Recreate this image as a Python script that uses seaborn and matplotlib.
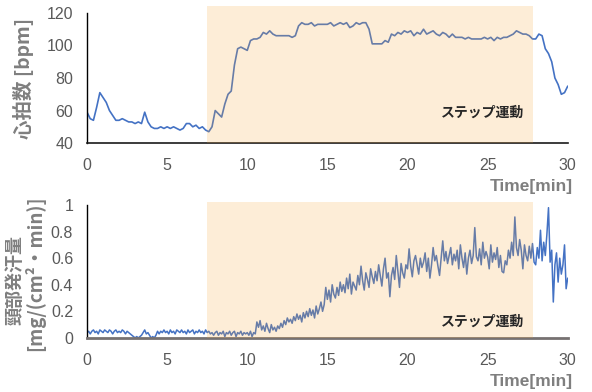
import numpy as np
import pandas as pd
import seaborn as sns
import matplotlib.pyplot as plt

# heart rate, sampled every 0.2 min
hr_time = np.round(np.arange(0, 151) * 0.2, 1)
hr_bpm = [59, 55, 54, 62, 71, 68, 65, 60, 57, 54,
          54, 55, 54, 53, 53, 52, 53, 52, 59, 53,
          50, 49, 49, 50, 49, 50, 49, 50, 49, 48,
          49, 52, 52, 50, 51, 49, 50, 48, 47, 50,
          60, 58, 56, 64, 70, 72, 88, 98, 99, 98,
          97, 103, 104, 104, 105, 108, 107, 109, 107, 106,
          106, 106, 106, 106, 105, 106, 112, 114, 113, 113,
          114, 112, 113, 113, 113, 113, 114, 112, 113, 114,
          113, 114, 111, 112, 114, 113, 114, 114, 110, 101,
          101, 101, 101, 103, 102, 107, 106, 108, 107, 109,
          108, 109, 106, 108, 107, 110, 107, 108, 109, 107,
          106, 108, 107, 105, 107, 105, 105, 105, 104, 105,
          104, 104, 104, 104, 105, 104, 105, 103, 105, 104,
          105, 105, 106, 107, 109, 108, 107, 107, 106, 104,
          104, 107, 106, 98, 95, 90, 80, 76, 70, 71,
          75]

# neck sweat rate, sampled every 0.1 min
sw_time = np.round(np.arange(0, 301) * 0.1, 1)
sw_rate = [.04, .05, .03, .05, .06, .04, .05, .03, .06, .05,
           .04, .06, .05, .04, .06, .05, .03, .05, .06, .04,
           .05, .04, .06, .05, .03, .05, .04, .03, .02, .01,
           .00, .01, .00, .01, .02, .04, .06, .03, .04, .02,
           .00, .01, .00, .02, .05, .03, .05, .04, .06, .04,
           .05, .03, .06, .04, .05, .03, .06, .05, .04, .06,
           .04, .05, .03, .06, .04, .05, .06, .03, .05, .04,
           .06, .04, .05, .03, .06, .04, .05, .03, .04, .02,
           .04, .05, .02, .04, .03, .05, .01, .04, .03, .05,
           .02, .04, .05, .01, .04, .03, .05, .02, .04, .03,
           .04, .02, .05, .01, .04, .03, .12, .08, .13, .06,
           .09, .05, .11, .07, .04, .10, .06, .08, .05, .09,
           .07, .11, .08, .13, .10, .15, .12, .14, .11, .16,
           .13, .18, .14, .17, .12, .19, .15, .20, .16, .22,
           .17, .21, .15, .24, .18, .22, .27, .20, .25, .38,
           .29, .36, .27, .40, .33, .30, .38, .32, .42, .35,
           .40, .34, .45, .37, .48, .33, .42, .39, .36, .47,
           .40, .54, .43, .36, .49, .44, .38, .52, .46, .41,
           .50, .43, .55, .47, .39, .52, .60, .45, .49, .31,
           .47, .53, .44, .62, .50, .38, .56, .49, .45, .55,
           .52, .67, .54, .46, .58, .62, .55, .48, .60, .53,
           .57, .64, .50, .60, .45, .55, .68, .58, .62, .54,
           .47, .60, .73, .58, .65, .56, .62, .68, .55, .63,
           .58, .66, .52, .70, .60, .53, .64, .48, .60, .66,
           .56, .62, .83, .61, .58, .67, .55, .72, .60, .65,
           .61, .52, .70, .57, .64, .59, .68, .53, .62, .50,
           .49, .58, .55, .66, .60, .72, .62, .91, .68, .62,
           .74, .66, .52, .70, .62, .58, .69, .60, .71, .57,
           .55, .68, .60, .81, .58, .72, .62, .78, .98, .57,
           .66, .27, .55, .64, .42, .60, .48, .55, .70, .37,
           .45]

step_start, step_end = 7.5, 27.85
step_label = "ステップ運動"

hr = pd.DataFrame({"t": hr_time, "v": hr_bpm})
sw = pd.DataFrame({"t": sw_time, "v": sw_rate})

sns.set_style("white")
plt.rcParams['font.family'] = ['Liberation Sans', 'DejaVu Sans']
cjk = ['Noto Sans CJK JP', 'DejaVu Sans']

line_col = "#4472C4"
shade_col = "#F5A537"
tick_col = "#595959"
lab_col = "#7F7F7F"

fig = plt.figure(figsize=(5.92, 3.92), dpi=100)
ax1 = fig.add_axes([0.147, 0.635, 0.812, 0.332])
ax2 = fig.add_axes([0.147, 0.138, 0.812, 0.339])

sns.lineplot(data=hr, x="t", y="v", ax=ax1, color=line_col, lw=1.2)
sns.lineplot(data=sw, x="t", y="v", ax=ax2, color=line_col, lw=1.1)

ax1.set_ylim(40, 120)
ax1.set_yticks([40, 60, 80, 100, 120])
ax2.set_ylim(0, 1)
ax2.set_yticks([0, 0.2, 0.4, 0.6, 0.8, 1])
ax2.set_yticklabels(["0", "0.2", "0.4", "0.6", "0.8", "1"])

for ax, top in [(ax1, 1.054), (ax2, 1.023)]:
    ax.set_xlim(0, 30)
    ax.set_xticks([0, 5, 10, 15, 20, 25, 30])
    ax.axvspan(step_start, step_end, ymin=0, ymax=top, color=shade_col,
               alpha=0.2, lw=0, zorder=5, clip_on=False)
    ax.set_xlabel("")
    ax.set_ylabel("")
    sns.despine(ax=ax)
    ax.tick_params(length=0, labelsize=11.5, colors=tick_col)
    ax.tick_params(axis="x", pad=11)
    ax.tick_params(axis="y", pad=10)
    ax.spines["left"].set_color("black")
    ax.spines["left"].set_linewidth(1.0)
    ax.text(1.01, -0.33, "Time[min]", transform=ax.transAxes, ha="right",
            va="center", fontsize=12.5, fontweight="bold", color=lab_col)

ax1.spines["bottom"].set_color("#1a1a1a")
ax1.spines["bottom"].set_linewidth(1.2)
ax2.spines["bottom"].set_color("#767171")
ax2.spines["bottom"].set_linewidth(2.0)

ax1.text(24.7, 58.5, step_label, ha="center", va="center", fontsize=10,
         fontweight="bold", color="#262626", family=cjk, zorder=6)
ax2.text(24.7, 0.12, step_label, ha="center", va="center", fontsize=10,
         fontweight="bold", color="#262626", family=cjk, zorder=6)

fig.text(24 / 592, 1 - 78 / 392, "心拍数 [bpm]", rotation=90, ha="center",
         va="center", fontsize=14, fontweight="bold", color=lab_col, family=cjk)
fig.text(15 / 592, 1 - 280 / 392, "頸部発汗量", rotation=90, ha="center",
         va="center", fontsize=13, fontweight="bold", color=lab_col, family=cjk)
fig.text(35 / 592, 1 - 273 / 392, "[mg/(cm²・min)]", rotation=90, ha="center",
         va="center", fontsize=13.5, fontweight="bold", color=lab_col, family=cjk)

fig.savefig("out.png", dpi=100)
